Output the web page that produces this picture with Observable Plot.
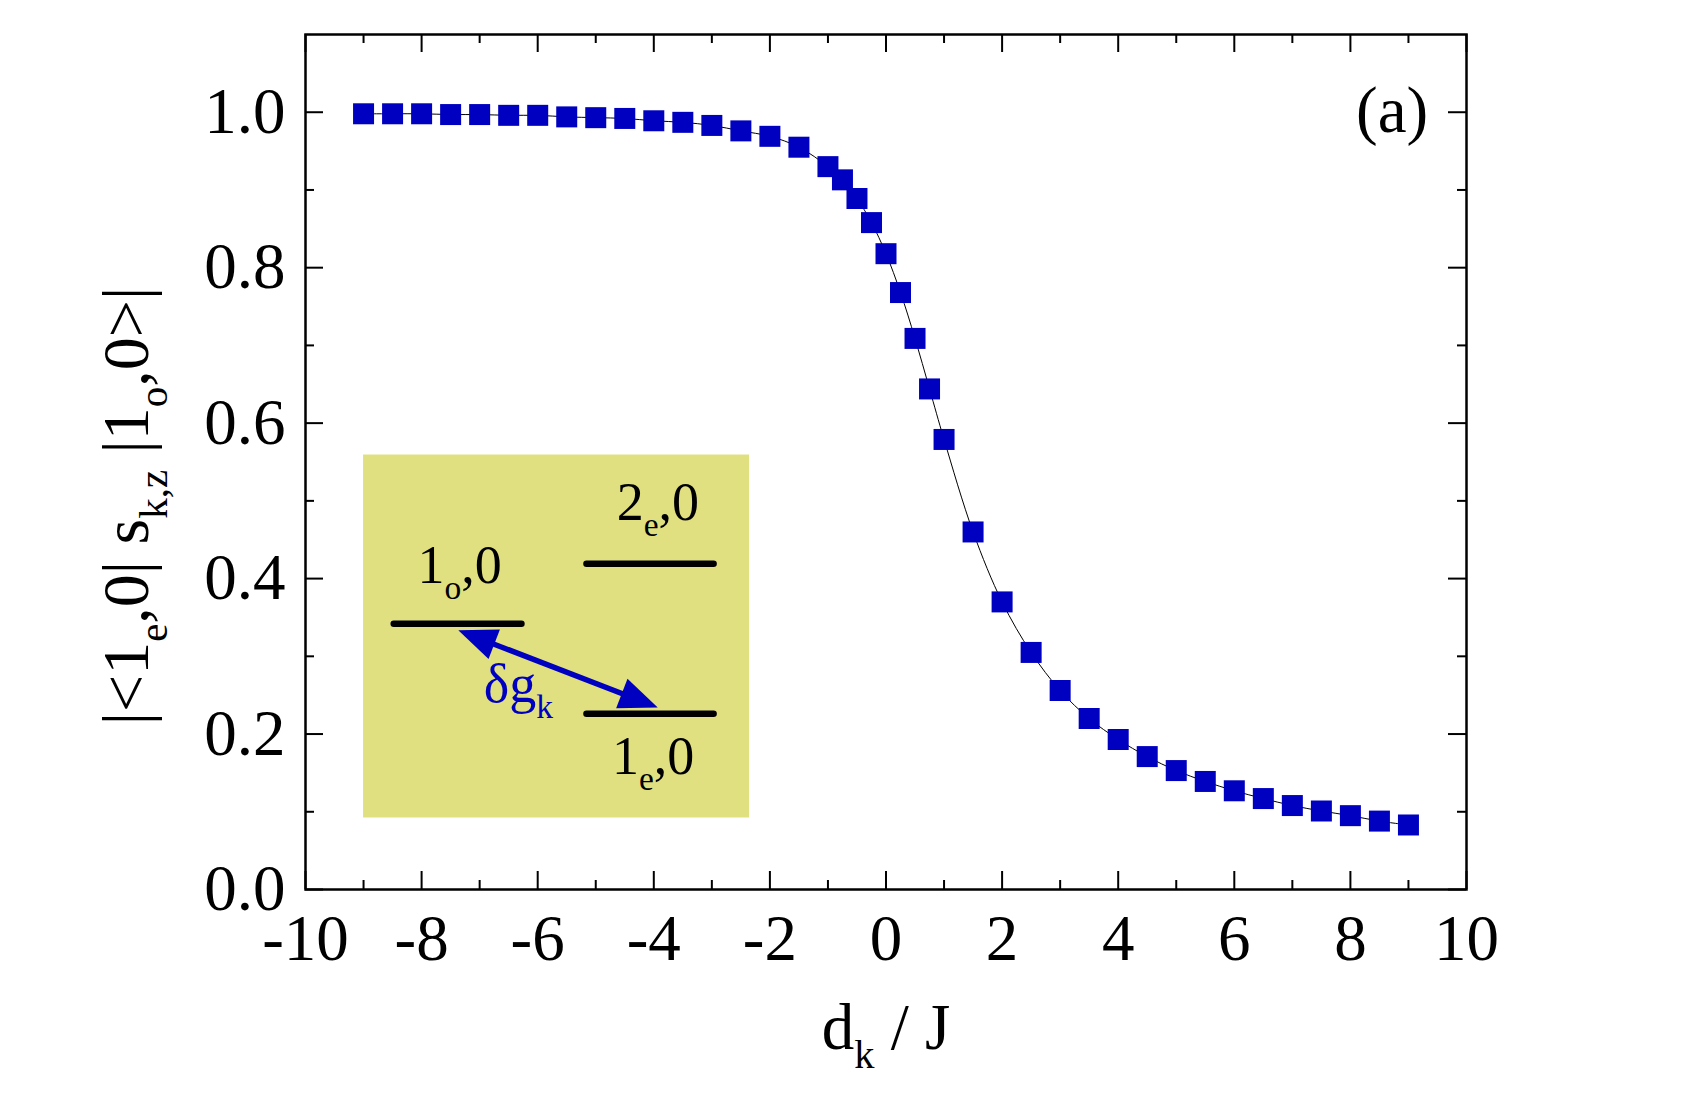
<!DOCTYPE html>
<html><head><meta charset="utf-8">
<script src="https://cdn.jsdelivr.net/npm/d3@7"></script>
<script src="https://cdn.jsdelivr.net/npm/@observablehq/plot@0.6"></script>
<style>
html,body{margin:0;padding:0;background:#fff;}
#chart svg text{font-family:"Liberation Serif","Times New Roman",serif;white-space:pre;}
</style></head><body><div id="chart"></div>
<script>
// ---- data ----
const dk = [-9,-8.5,-8,-7.5,-7,-6.5,-6,-5.5,-5,-4.5,-4,-3.5,-3,-2.5,-2,-1.5,-1,
  -0.75,-0.5,-0.25,0,0.25,0.5,0.75,
  1,1.5,2,2.5,3,3.5,4,4.5,5,5.5,6,6.5,7,7.5,8,8.5,9];
const overlap = [0.998,0.998,0.998,0.997,0.997,0.996,0.996,0.994,0.993,0.992,0.989,0.987,0.983,0.976,0.969,0.955,0.930,
  0.913,0.889,0.858,0.818,0.768,0.709,0.644,
  0.579,0.460,0.370,0.305,0.256,0.220,0.193,0.171,0.153,0.139,0.127,0.117,0.108,0.101,0.095,0.088,0.083];
const xMajorTicks = [-10,-8,-6,-4,-2,0,2,4,6,8,10];
const xMinorTicks = [-9,-7,-5,-3,-1,1,3,5,7,9];
const yMajorTicks = [0,0.2,0.4,0.6,0.8,1.0];
const yMinorTicks = [0.1,0.3,0.5,0.7,0.9];
const xLabel = "d_{k} / J";
const yLabel = "|<1_{e},0| s_{k,z} |1_{o},0>|";
// inset (energy-level sketch), in data units
const insetBox = [{x1:-9.0, x2:-2.35, y1:0.092, y2:0.559}];
const levels = [{x1:-8.48, x2:-6.28, y:0.342},{x1:-5.16, x2:-2.97, y:0.419},{x1:-5.16, x2:-2.97, y:0.226}];
const levelLabels = [{x:-8.07, y:0.394, t:"1_{o},0"},{x:-4.64, y:0.475, t:"2_{e},0"},{x:-4.72, y:0.149, t:"1_{e},0"}];
const coupling = [{x1:-7.25, y1:0.330, x2:-4.05, y2:0.2377}];
const couplingLabel = [{x:-6.93, y:0.241, t:"δg_{k}"}];
const panelLabel = [{x:9.34, y:0.975, t:"(a)"}];

// ---- layout / style ----
const W = 1703, H = 1115, ML = 305, MR = 237, MT = 34, MB = 226;
const FW = W - ML - MR, FH = H - MT - MB;
const BLUE = "#0000C0";
const FS = 65, MAJ = 18, MIN = 9;

const data = dk.map((d, i) => ({dk: d, ov: overlap[i]}));

const plot = Plot.plot({
  width: W, height: H,
  marginLeft: ML, marginRight: MR, marginTop: MT, marginBottom: MB,
  style: {background: "white", fontFamily: "Liberation Serif, serif", overflow: "visible"},
  x: {domain: [-10, 10]},
  y: {domain: [0, 1.1]},
  marks: [
    Plot.rect(insetBox, {x1: "x1", x2: "x2", y1: "y1", y2: "y2", fill: "#E0E080"}),
    Plot.link(levels, {x1: "x1", x2: "x2", y1: "y", y2: "y", stroke: "black", strokeWidth: 6.5, strokeLinecap: "round"}),
    Plot.link(coupling, {x1: "x1", y1: "y1", x2: "x2", y2: "y2", stroke: BLUE, strokeWidth: 5.5,
      markerStart: "arrow-reverse", markerEnd: "arrow"}),
    Plot.text(levelLabels, {x: "x", y: "y", text: "t", textAnchor: "start", lineAnchor: "bottom", fontSize: 54, fill: "black"}),
    Plot.text(couplingLabel, {x: "x", y: "y", text: "t", textAnchor: "start", lineAnchor: "bottom", fontSize: 54, fill: BLUE}),
    Plot.line(data, {x: "dk", y: "ov", curve: "catmull-rom", stroke: "black", strokeWidth: 1}),
    Plot.dot(data, {x: "dk", y: "ov", symbol: "square", r: Math.sqrt(441 / Math.PI), fill: BLUE}),
    // inward ticks on all four sides
    Plot.ruleX(xMajorTicks, {x: d => d, insetTop: FH - MAJ, stroke: "black", strokeWidth: 2}),
    Plot.ruleX(xMinorTicks, {x: d => d, insetTop: FH - MIN, stroke: "black", strokeWidth: 2}),
    Plot.ruleX(xMajorTicks, {x: d => d, insetBottom: FH - MAJ, stroke: "black", strokeWidth: 2}),
    Plot.ruleX(xMinorTicks, {x: d => d, insetBottom: FH - MIN, stroke: "black", strokeWidth: 2}),
    Plot.ruleY(yMajorTicks, {y: d => d, insetRight: FW - MAJ, stroke: "black", strokeWidth: 2}),
    Plot.ruleY(yMinorTicks, {y: d => d, insetRight: FW - MIN, stroke: "black", strokeWidth: 2}),
    Plot.ruleY(yMajorTicks, {y: d => d, insetLeft: FW - MAJ, stroke: "black", strokeWidth: 2}),
    Plot.ruleY(yMinorTicks, {y: d => d, insetLeft: FW - MIN, stroke: "black", strokeWidth: 2}),
    Plot.frame({stroke: "black", strokeWidth: 2.5}),
    Plot.axisX(xMajorTicks, {tickSize: 0, tickPadding: 24, fontSize: FS, tickFormat: d => String(d), label: null, fill: "black"}),
    Plot.axisY(yMajorTicks, {tickSize: 0, tickPadding: 20, fontSize: FS, tickFormat: d3.format(".1f"), label: null, fill: "black"}),
    Plot.text([yLabel], {frameAnchor: "left", rotate: -90, dx: -158, dy: 44, text: d => d, fontSize: 66, lineAnchor: "bottom", textAnchor: "middle", fill: "black"}),
    Plot.text([xLabel], {frameAnchor: "bottom", dy: 159, text: d => d, fontSize: FS, lineAnchor: "bottom", textAnchor: "middle", fill: "black"}),
    Plot.text(panelLabel, {x: "x", y: "y", text: "t", textAnchor: "end", lineAnchor: "bottom", fontSize: FS, fill: "black"})
  ]
});
document.getElementById("chart").appendChild(plot);

// subscripts: turn "a_{b}" into tspans
d3.select(plot).selectAll("text").each(function() {
  const s = this.textContent;
  if (!s.includes("_{")) return;
  const fs = parseFloat(getComputedStyle(this).fontSize);
  const parts = []; const re = /_\{([^}]*)\}/g; let last = 0, m;
  while ((m = re.exec(s))) {
    if (m.index > last) parts.push({t: s.slice(last, m.index), sub: false});
    parts.push({t: m[1], sub: true});
    last = re.lastIndex;
  }
  if (last < s.length) parts.push({t: s.slice(last), sub: false});
  const el = d3.select(this);
  el.text(null);
  let shifted = 0;
  for (const p of parts) {
    const ts = el.append("tspan").text(p.t);
    if (p.sub) { ts.attr("font-size", fs * 0.62).attr("dy", fs * 0.3 - shifted); shifted = fs * 0.3; }
    else if (shifted) { ts.attr("dy", -shifted); shifted = 0; }
  }
});
// filled arrowheads
d3.select(plot).selectAll("marker").attr("overflow", "visible").each(function() {
  const col = this.getAttribute("stroke") || BLUE;
  d3.select(this).attr("stroke", "none").attr("fill", col)
    .selectAll("path").attr("d", "M-8.5,-4.3L2,0L-8.5,4.3Z").attr("stroke", "none").attr("fill", col);
});
</script></body></html>
